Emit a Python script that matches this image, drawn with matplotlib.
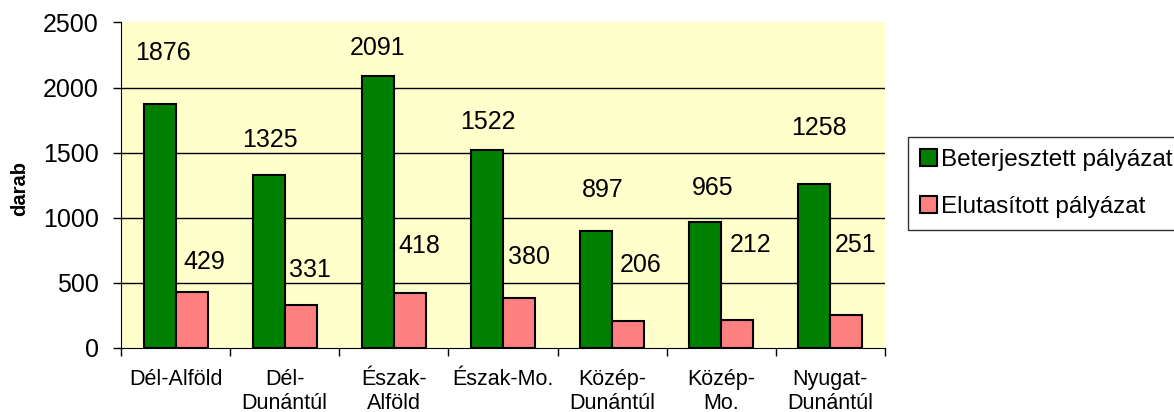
import numpy as np
import matplotlib.pyplot as plt

plt.rcParams['font.family'] = ['Liberation Sans', 'DejaVu Sans']

regions = ['Dél-Alföld', 'Dél-\nDunántúl', 'Észak-\nAlföld', 'Észak-Mo.',
           'Közép-\nDunántúl', 'Közép-\nMo.', 'Nyugat-\nDunántúl']
submitted = [1876, 1325, 2091, 1522, 897, 965, 1258]
rejected = [429, 331, 418, 380, 206, 212, 251]

# label placement as in the original (offsets in pixels from bar top centre)
sub_dx = [3, 1, 0, 1, 7, 7, 4]
sub_dy = [51, 35, 28, 28, 41, 34, 56]
rej_dx = [13, 9, 9, 10, 12, 13, 9]
rej_dy = [30, 35, 47, 41, 56, 75, 70]

fig = plt.figure(figsize=(11.74, 4.12), dpi=100)
ax = fig.add_axes([121 / 1174, 1 - 347.7 / 412, 764 / 1174, 325.2 / 412])
ax.set_facecolor('#FFFFCC')

x = np.arange(len(regions)) + 0.5
w = 0.293
b1 = ax.bar(x - w / 2, submitted, width=w, color='#008000', edgecolor='black',
            linewidth=1.5, label='Beterjesztett pályázat', zorder=3)
b2 = ax.bar(x + w / 2, rejected, width=w, color='#FF8080', edgecolor='black',
            linewidth=1.5, label='Elutasított pályázat', zorder=3)

px = 72 / 100
for bars, vals, dxs, dys in [(b1, submitted, sub_dx, sub_dy), (b2, rejected, rej_dx, rej_dy)]:
    for bar, v, dx, dy in zip(bars, vals, dxs, dys):
        ax.annotate(str(v), (bar.get_x() + bar.get_width() / 2, v),
                    xytext=(dx * px, dy * px), textcoords='offset points',
                    ha='center', va='center', fontsize=18, zorder=4)

ax.set_xlim(0, len(regions))
ax.set_ylim(0, 2500)
ax.set_yticks(np.arange(0, 2501, 500))
ax.tick_params(axis='y', labelsize=18, length=6, width=1, pad=10)
ax.grid(True, axis='y', color='black', linewidth=1, zorder=1)
gl = ax.yaxis.get_gridlines()
gl[0].set_visible(False)
gl[-1].set_visible(False)

ax.set_xticks(x)
ax.set_xticklabels(regions)
ax.set_xticks(np.arange(len(regions) + 1), minor=True)
ax.tick_params(axis='x', which='major', length=0, labelsize=15.5, pad=15)
ax.tick_params(axis='x', which='minor', length=6, width=1)

for s in ['top', 'right']:
    ax.spines[s].set_visible(False)
ax.spines['left'].set_color('black')
ax.spines['bottom'].set_color('black')

ax.set_ylabel('darab', fontsize=14.5, fontweight='bold')
ax.yaxis.set_label_coords(-0.12, 0.49)

leg = fig.legend(handles=[b1, b2], loc='center left',
                 bbox_to_anchor=(908 / 1174, 1 - 183.5 / 412),
                 fontsize=17.5, frameon=True, fancybox=False, edgecolor='black',
                 handlelength=0.7, handleheight=0.7, handletextpad=0.15,
                 labelspacing=1.0, borderpad=0.5, borderaxespad=0)
leg.get_frame().set_linewidth(1)

fig.savefig('out.png', dpi=100)
